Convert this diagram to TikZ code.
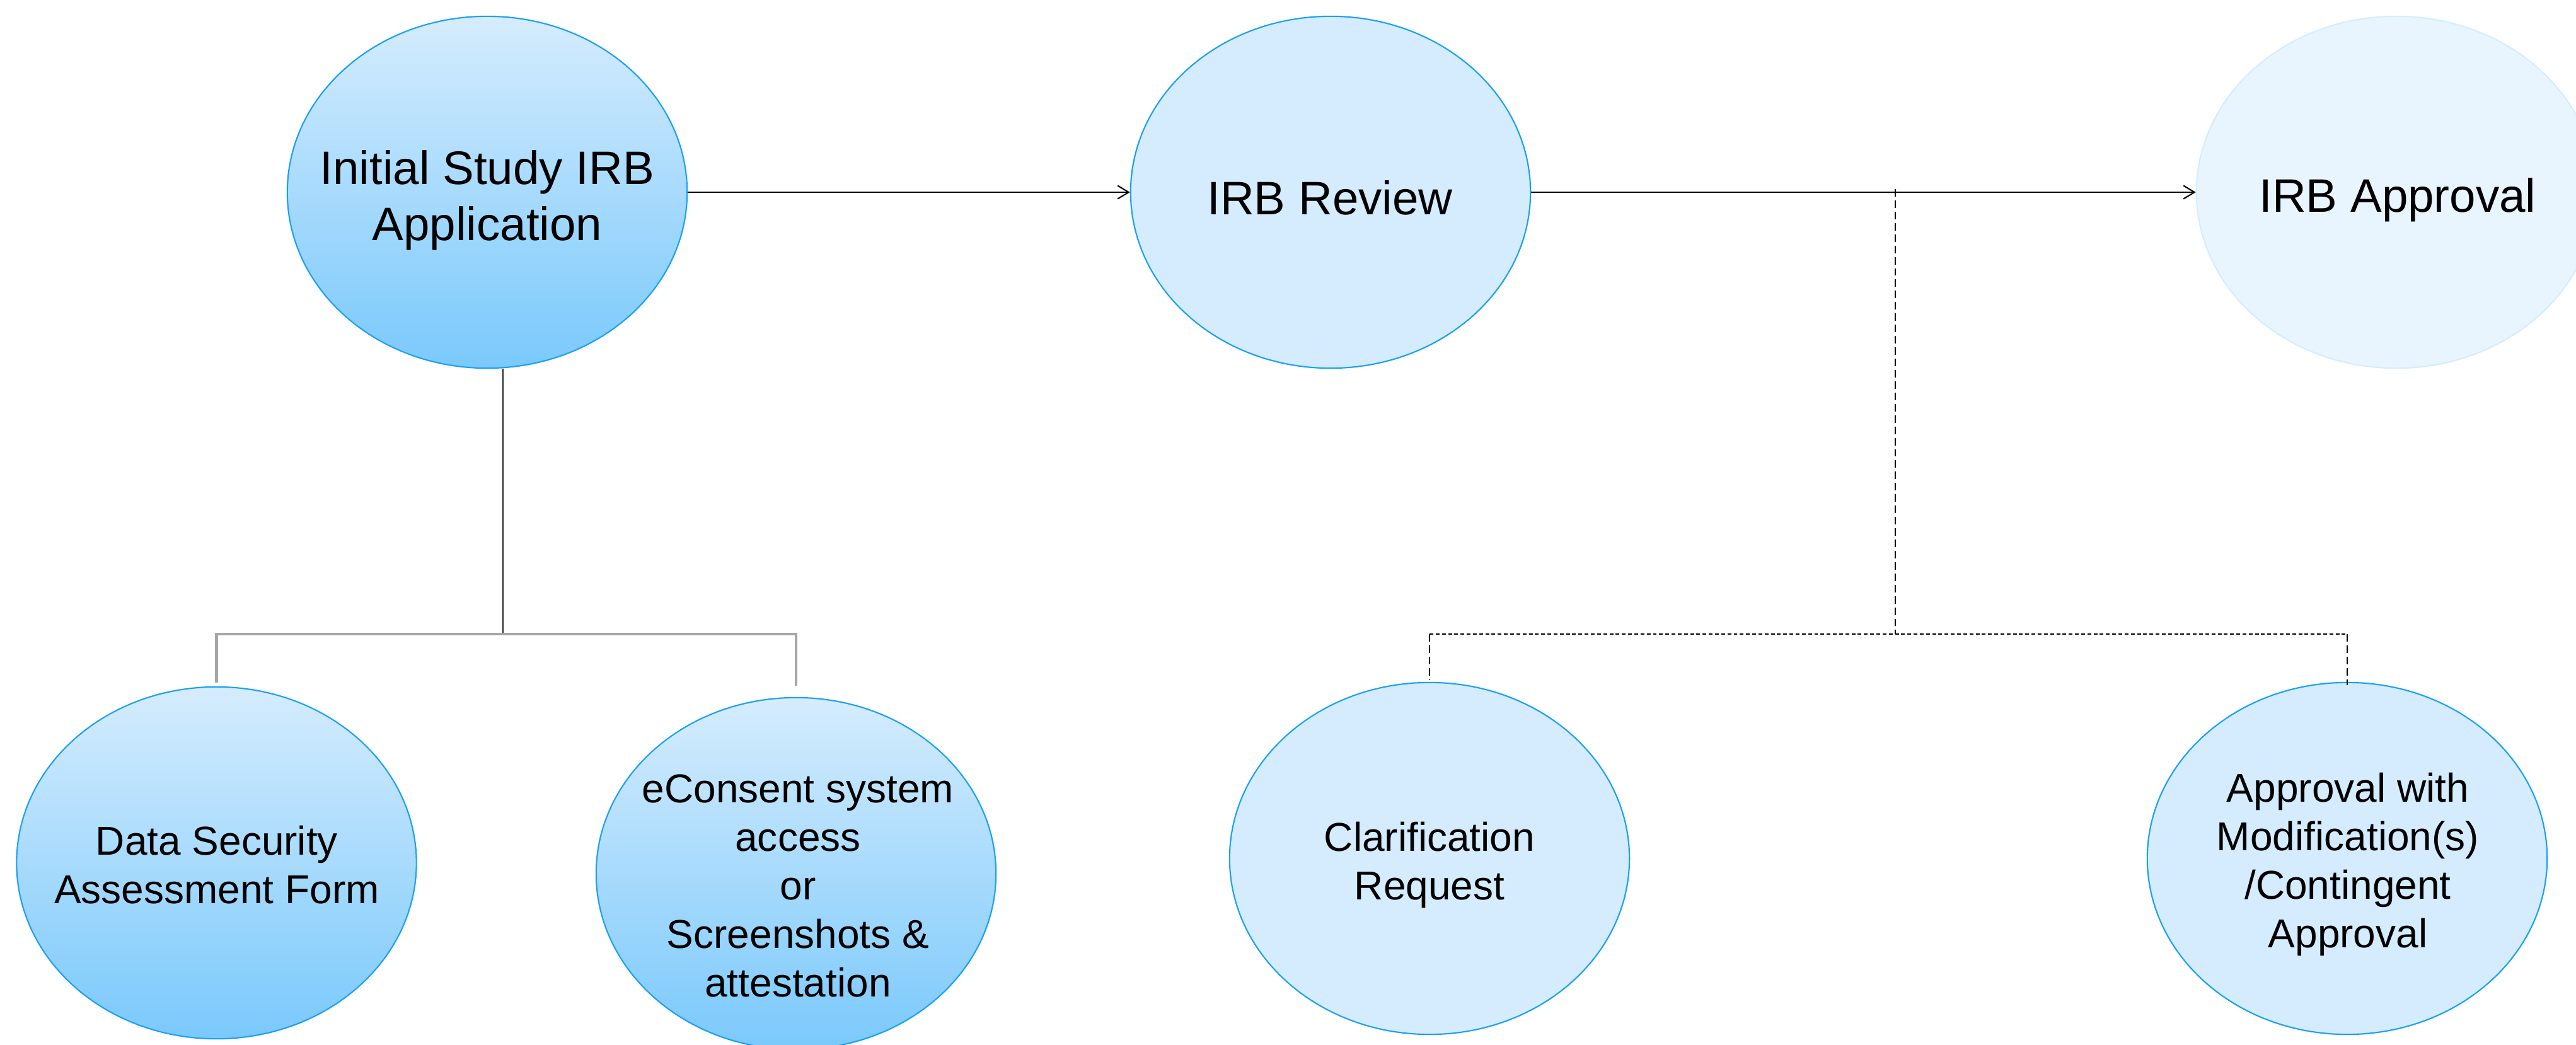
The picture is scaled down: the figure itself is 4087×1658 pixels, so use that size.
\documentclass[tikz,border=0pt]{standalone}
\usepackage{fontspec}
\setmainfont{Liberation Sans}
\usetikzlibrary{shapes.geometric,arrows.meta}
\definecolor{bubline}{RGB}{26,160,245}
\definecolor{gtop}{RGB}{213,236,253}
\definecolor{gbot}{RGB}{122,201,252}
\definecolor{flatfill}{RGB}{212,236,253}
\definecolor{palefill}{RGB}{232,245,254}
\definecolor{paleline}{RGB}{214,236,252}
\definecolor{elbow}{RGB}{166,166,166}
\begin{document}
\begin{tikzpicture}[x=0.01cm,y=-0.01cm,
  bub/.style={ellipse, draw=bubline, line width=0.6pt, minimum width=6.34cm, minimum height=5.58cm, inner sep=0pt},
  gradbub/.style={bub, top color=gtop, bottom color=gbot},
  flatbub/.style={bub, fill=flatfill},
  palebub/.style={bub, draw=paleline, fill=palefill},
  bigtxt/.style={font=\fontsize{21.2}{25.2}\selectfont, align=center, inner sep=0pt},
  smalltxt/.style={font=\fontsize{18.2}{21.9}\selectfont, align=center, inner sep=0pt},
  arr/.style={draw=black, line width=0.6pt, -{Straight Barb[length=5pt,width=6pt]}},
  darkline/.style={draw=black!85, line width=0.45pt},
  elbowline/.style={draw=elbow, line width=1.2pt},
  dashv/.style={draw=black, line width=0.45pt, dash pattern=on 3.4pt off 1.7pt},
  doth/.style={draw=black, line width=0.75pt, dash pattern=on 1.7pt off 1.1pt}
]
\useasboundingbox (0,0) rectangle (4087,1658);
\fill[white] (0,0) rectangle (4087,1658);

% bubbles
\node[gradbub] (A) at (773,305) {};
\node[flatbub] (R) at (2111,305) {};
\node[palebub] (P) at (3802,305) {};
\node[gradbub] (D) at (343.5,1369) {};
\node[gradbub] (E) at (1263,1386) {};
\node[flatbub] (C) at (2268,1362) {};
\node[flatbub] (M) at (3724,1362) {};

% texts
\node[bigtxt] (tA) at (773,318) {Initial Study IRB\\Application};
\node[bigtxt] (tR) at (2110,314) {IRB Review};
\node[bigtxt] (tP) at (3804,317) {IRB Approval};
\node[smalltxt] (tD) at (344,1372) {Data Security\\Assessment Form};
\node[smalltxt] (tE) at (1266,1405) {eConsent system\\access\\or\\Screenshots \&\\attestation};
\node[smalltxt] (tC) at (2268,1372) {Clarification\\Request};
\node[smalltxt] (tM) at (3725,1371) {Approval with\\Modification(s)\\/Contingent\\Approval};

% coordinates
\coordinate (ja) at (798,1006);
\coordinate (jr) at (3007,300);
\coordinate (jb) at (3007,1006);

% main flow
\draw[arr] (A) -- (R);
\draw[arr] (R) -- (P);

% left tree
\draw[darkline] (A.south -| ja) -- (ja);
\draw[elbowline, shorten <=6pt*0.2845, shorten >=18pt*0.2845, line join=miter]
  (D.north) -- (D.north |- ja) -- (E.north |- ja) -- (E.north);

% right tree
\draw[dashv] (jr) -- (jb);
\draw[doth] (C.north |- jb) -- (M.north |- jb);
\draw[dashv] (C.north |- jb) -- ([yshift=3pt*0.2845]C.north);
\draw[dashv] (M.north |- jb) -- ([yshift=-5pt*0.2845]M.north);
\end{tikzpicture}
\end{document}
